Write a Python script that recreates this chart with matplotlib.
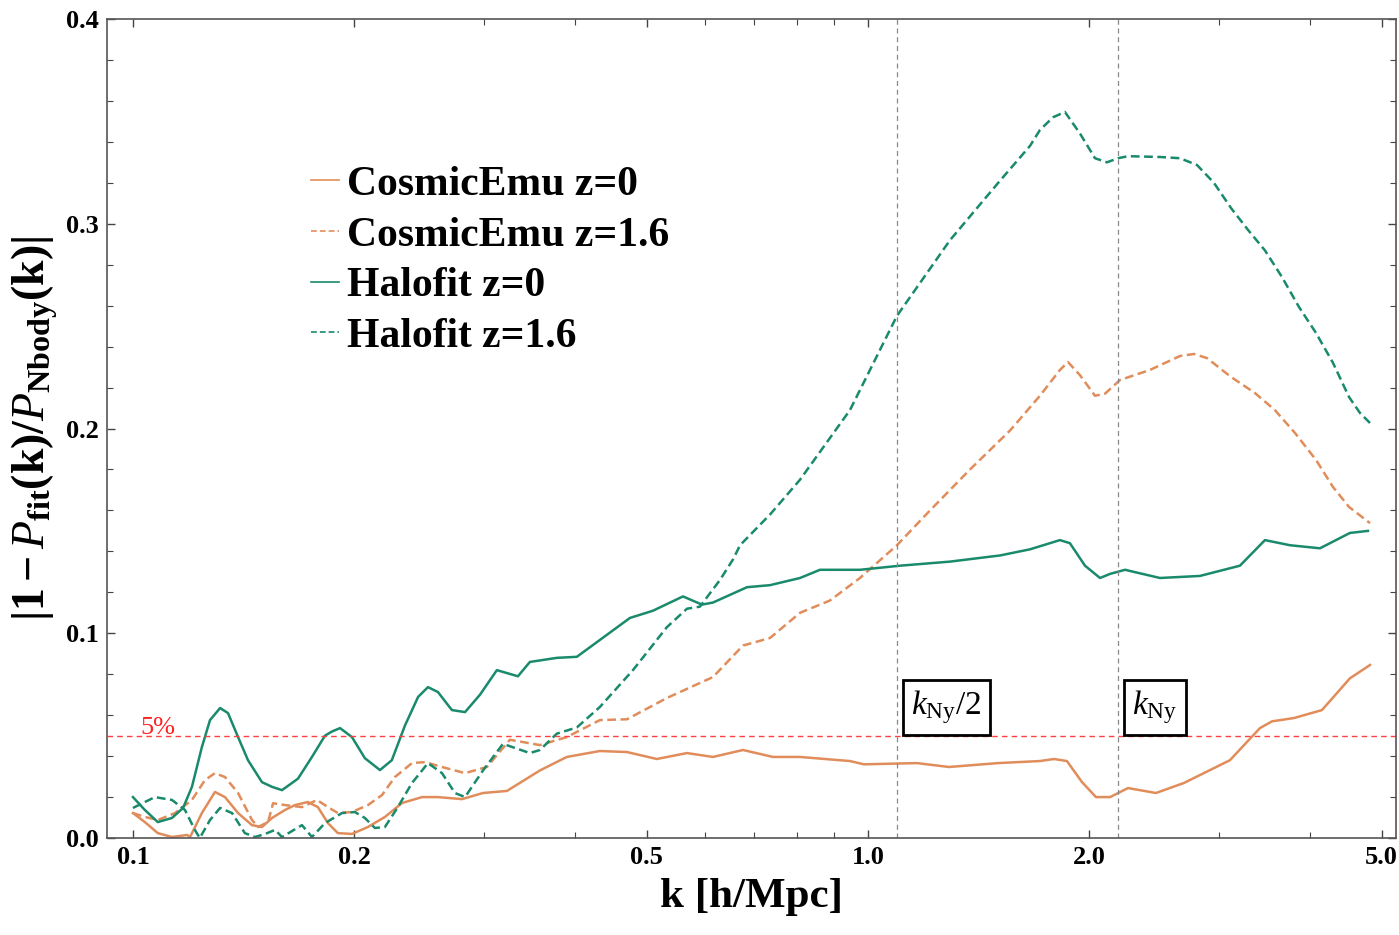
import matplotlib
matplotlib.use("Agg")
import matplotlib.pyplot as plt

plt.rcParams['font.family'] = ['Liberation Serif', 'DejaVu Serif']
plt.rcParams['mathtext.fontset'] = 'custom'
plt.rcParams['mathtext.rm'] = 'Liberation Serif'
plt.rcParams['mathtext.bf'] = 'Liberation Serif:bold'
plt.rcParams['mathtext.it'] = 'Liberation Serif:italic'

ORANGE = "#e08d5b"
TEAL = "#1a8a6c"

# Halofit z=0
k_hf0 = [0.100, 0.1038, 0.1081, 0.1130, 0.1170, 0.1203, 0.1241, 0.1273, 0.1314, 0.1347,
         0.1390, 0.1434, 0.1498, 0.1546, 0.1595, 0.1646, 0.1677, 0.1752, 0.1825, 0.1865,
         0.1913, 0.1986, 0.2068, 0.2168, 0.2250, 0.2345, 0.2443, 0.2520, 0.2600, 0.2716,
         0.2830, 0.2966, 0.3127, 0.3340, 0.3468, 0.3774, 0.4017, 0.4745, 0.5098, 0.5602,
         0.5944, 0.6153, 0.6846, 0.7358, 0.8083, 0.8604, 0.9752, 1.1054, 1.2932, 1.5122,
         1.6612, 1.8247, 1.8826, 1.9737, 2.0688, 2.1349, 2.2375, 2.4960, 2.8289, 3.2067,
         3.4684, 3.7509, 4.1210, 4.5261, 4.7893]
d_hf0 = [0.020, 0.0137, 0.0078, 0.0098, 0.0147, 0.025, 0.0444, 0.0576, 0.0635, 0.061,
         0.0493, 0.038, 0.0273, 0.025, 0.0234, 0.0269, 0.029, 0.0396, 0.050, 0.052,
         0.0537, 0.0493, 0.039, 0.0332, 0.038, 0.055, 0.0689, 0.0737, 0.0713, 0.0625,
         0.0615, 0.070, 0.082, 0.079, 0.086, 0.088, 0.0885, 0.1075, 0.111, 0.118,
         0.114, 0.115, 0.1225, 0.1235, 0.127, 0.131, 0.131, 0.133, 0.135, 0.138,
         0.141, 0.1455, 0.144, 0.133, 0.127, 0.129, 0.131, 0.127, 0.128, 0.133,
         0.1455, 0.143, 0.1415, 0.149, 0.150]

# Halofit z=1.6
k_hf16 = [0.100, 0.1071, 0.1130, 0.1177, 0.1214, 0.1233, 0.1273, 0.1314, 0.1364, 0.1420,
          0.1466, 0.1513, 0.1561, 0.1595, 0.1698, 0.1752, 0.1825, 0.1925, 0.2004, 0.2068,
          0.2134, 0.2202, 0.2293, 0.2397, 0.2520, 0.2633, 0.2742, 0.2830, 0.2994, 0.3187,
          0.3468, 0.3578, 0.3774, 0.4017, 0.4318, 0.4789, 0.5327, 0.5672, 0.5907, 0.6289,
          0.6551, 0.6698, 0.7358, 0.8083, 0.9452, 1.095, 1.2932, 1.5122, 1.6612, 1.714,
          1.786, 1.8535, 1.9434, 2.0364, 2.1145, 2.19, 2.2584, 2.496, 2.6576, 2.803,
          2.956, 3.118, 3.289, 3.468, 3.658, 3.859, 4.071, 4.293, 4.513, 4.671,
          4.8195]
d_hf16 = [0.0147, 0.020, 0.0186, 0.0137, 0.004, 0.000, 0.0088, 0.0147, 0.0122, 0.0024,
          0.0005, 0.002, 0.004, 0.0005, 0.0063, 0.0005, 0.0073, 0.0122, 0.0127, 0.0098,
          0.0049, 0.0054, 0.0151, 0.0269, 0.0366, 0.0317, 0.022, 0.020, 0.033, 0.046,
          0.0415, 0.043, 0.051, 0.054, 0.064, 0.082, 0.103, 0.112, 0.113, 0.126,
          0.136, 0.143, 0.158, 0.175, 0.209, 0.255, 0.292, 0.321, 0.338, 0.3458,
          0.352, 0.3546, 0.344, 0.332, 0.330, 0.332, 0.333, 0.3326, 0.332, 0.3287,
          0.320, 0.3077, 0.297, 0.287, 0.274, 0.2593, 0.2466, 0.232, 0.2154, 0.2076,
          0.2027]

# CosmicEmu z=0
k_ce0 = [0.100, 0.1038, 0.1081, 0.1130, 0.1185, 0.1196, 0.1241, 0.1293, 0.1334, 0.1390,
         0.1452, 0.1498, 0.1546, 0.1610, 0.1661, 0.1730, 0.1785, 0.1842, 0.1900, 0.1986,
         0.2088, 0.2202, 0.2323, 0.2474, 0.2600, 0.2803, 0.2994, 0.3227, 0.3578, 0.3893,
         0.4318, 0.4700, 0.5162, 0.5672, 0.6153, 0.6760, 0.7426, 0.8083, 0.9452, 0.9876,
         1.1658, 1.2891, 1.5028, 1.7140, 1.7909, 1.8650, 1.9555, 2.0429, 2.1349, 2.2584,
         2.4651, 2.6913, 3.1076, 3.4145, 3.5462, 3.7983, 4.1468, 4.5261, 4.8195]
d_ce0 = [0.0122, 0.0078, 0.0024, 0.0005, 0.0015, 0.0005, 0.0122, 0.0225, 0.020, 0.0122,
         0.0063, 0.0054, 0.0098, 0.0137, 0.0161, 0.0176, 0.0151, 0.0073, 0.0024, 0.002,
         0.0054, 0.0103, 0.0171, 0.020, 0.020, 0.019, 0.022, 0.023, 0.033, 0.0396,
         0.0425, 0.042, 0.0386, 0.0415, 0.0396, 0.043, 0.0396, 0.0396, 0.0376, 0.036,
         0.0366, 0.0347, 0.0366, 0.0376, 0.0386, 0.0376, 0.0273, 0.020, 0.020, 0.0244,
         0.022, 0.0269, 0.038, 0.0537, 0.057, 0.0586, 0.0625, 0.078, 0.0845]

# CosmicEmu z=1.6
k_ce16 = [0.100, 0.1038, 0.1081, 0.1141, 0.1203, 0.1253, 0.1293, 0.1334, 0.1390, 0.1452,
          0.1480, 0.1527, 0.1551, 0.1610, 0.1698, 0.1780, 0.1842, 0.1900, 0.1986, 0.2088,
          0.2182, 0.2272, 0.2397, 0.2497, 0.2633, 0.2830, 0.3031, 0.3257, 0.3578, 0.3893,
          0.4318, 0.4700, 0.5327, 0.6153, 0.6760, 0.7358, 0.8083, 0.8877, 0.9752, 1.095,
          1.2146, 1.3767, 1.5604, 1.7140, 1.8247, 1.8710, 1.9434, 2.0364, 2.1014, 2.2026,
          2.4192, 2.6576, 2.777, 2.892, 3.118, 3.362, 3.578, 3.811, 4.071, 4.293,
          4.513, 4.8195]
d_ce16 = [0.0122, 0.0103, 0.0088, 0.0122, 0.0186, 0.0283, 0.0317, 0.0298, 0.022, 0.0088,
          0.0054, 0.0078, 0.017, 0.0161, 0.0151, 0.0186, 0.0151, 0.0122, 0.0127, 0.0161,
          0.021, 0.0298, 0.0366, 0.0371, 0.0347, 0.0317, 0.0347, 0.048, 0.0454, 0.0493,
          0.0576, 0.058, 0.0684, 0.0786, 0.094, 0.0977, 0.110, 0.116, 0.127, 0.143,
          0.160, 0.180, 0.199, 0.216, 0.2286, 0.2325, 0.226, 0.216, 0.217, 0.2237,
          0.2286, 0.2354, 0.2364, 0.2344, 0.2252, 0.2173, 0.209, 0.1978, 0.1846, 0.1714,
          0.1617, 0.1538]

k_ny = 2.19
limite = 0.05

fig = plt.figure(figsize=(13.99, 9.35), dpi=100)
ax = fig.add_axes([0.0765, 0.1037, 0.9214, 0.876])

dash = (0, (3.5, 1.8))
ax.plot(k_ce0, d_ce0, color=ORANGE, lw=1.8, label="CosmicEmu z=0")
ax.plot(k_ce16, d_ce16, color=ORANGE, lw=1.8, ls=dash, label="CosmicEmu z=1.6")
ax.plot(k_hf0, d_hf0, color=TEAL, lw=1.8, label="Halofit z=0")
ax.plot(k_hf16, d_hf16, color=TEAL, lw=1.8, ls=dash, label="Halofit z=1.6")

ax.axhline(limite, color="#ff4040", lw=1.0, ls=(0, (4, 3)))
ax.text(0.1022, limite + 0.0006, "5%", color="#ff2020", fontsize=19, va="baseline", ha="left")

for kv, lab in [(k_ny / 2, r"$k_{\mathrm{Ny}}/2$"), (k_ny, r"$k_{\mathrm{Ny}}$")]:
    ax.axvline(kv, color="#888888", lw=0.9, ls=(0, (4, 3)))
    ax.text(kv * 1.045, 0.0545, lab, fontsize=24, va="bottom", ha="left",
            bbox=dict(boxstyle="square,pad=0.25", fc="white", ec="black", lw=2.0))

ax.set_xscale("log")
ax.set_xlim(0.0922, 5.23)
ax.set_ylim(0, 0.4)

ax.set_xticks([0.1, 0.2, 0.5, 1.0, 2.0, 5.0])
ax.set_xticklabels(["0.1", "0.2", "0.5", "1.0", "2.0", "5.0"])
ax.set_xticks([0.3, 0.4, 0.6, 0.7, 0.8, 0.9, 3.0, 4.0], minor=True)
ax.set_yticks([0.0, 0.1, 0.2, 0.3, 0.4])
ax.set_yticklabels(["0.0", "0.1", "0.2", "0.3", "0.4"])
ax.set_yticks([0.02, 0.04, 0.06, 0.08, 0.12, 0.14, 0.16, 0.18, 0.22, 0.24, 0.26, 0.28,
               0.32, 0.34, 0.36, 0.38], minor=True)
ax.tick_params(which="both", direction="in", top=True, right=True, color="#444444")
ax.tick_params(which="major", length=6, width=1, labelsize=19, pad=6)
ax.tick_params(which="minor", length=4, width=0.8)
for lbl in ax.get_xticklabels() + ax.get_yticklabels():
    lbl.set_fontweight("bold")
for sp in ax.spines.values():
    sp.set_color("#555555")
    sp.set_linewidth(1.2)

ax.set_xlabel("k [h/Mpc]", fontsize=31, fontweight="bold", labelpad=6)
ax.set_ylabel(r"$\mathbf{|1 - }\mathit{P}_{\mathbf{fit}}\mathbf{(k)/}\mathit{P}_{\mathbf{Nbody}}\mathbf{(k)|}$",
              fontsize=33, labelpad=4)

leg = ax.legend(loc="upper left", bbox_to_anchor=(0.145, 0.841), frameon=False,
                prop={"weight": "bold", "size": 30}, handlelength=0.68,
                handletextpad=0.2, labelspacing=0.3, borderaxespad=0)
for h in leg.get_lines():
    h.set_linewidth(1.2)

plt.savefig("out.png", dpi=100)
plt.close()
